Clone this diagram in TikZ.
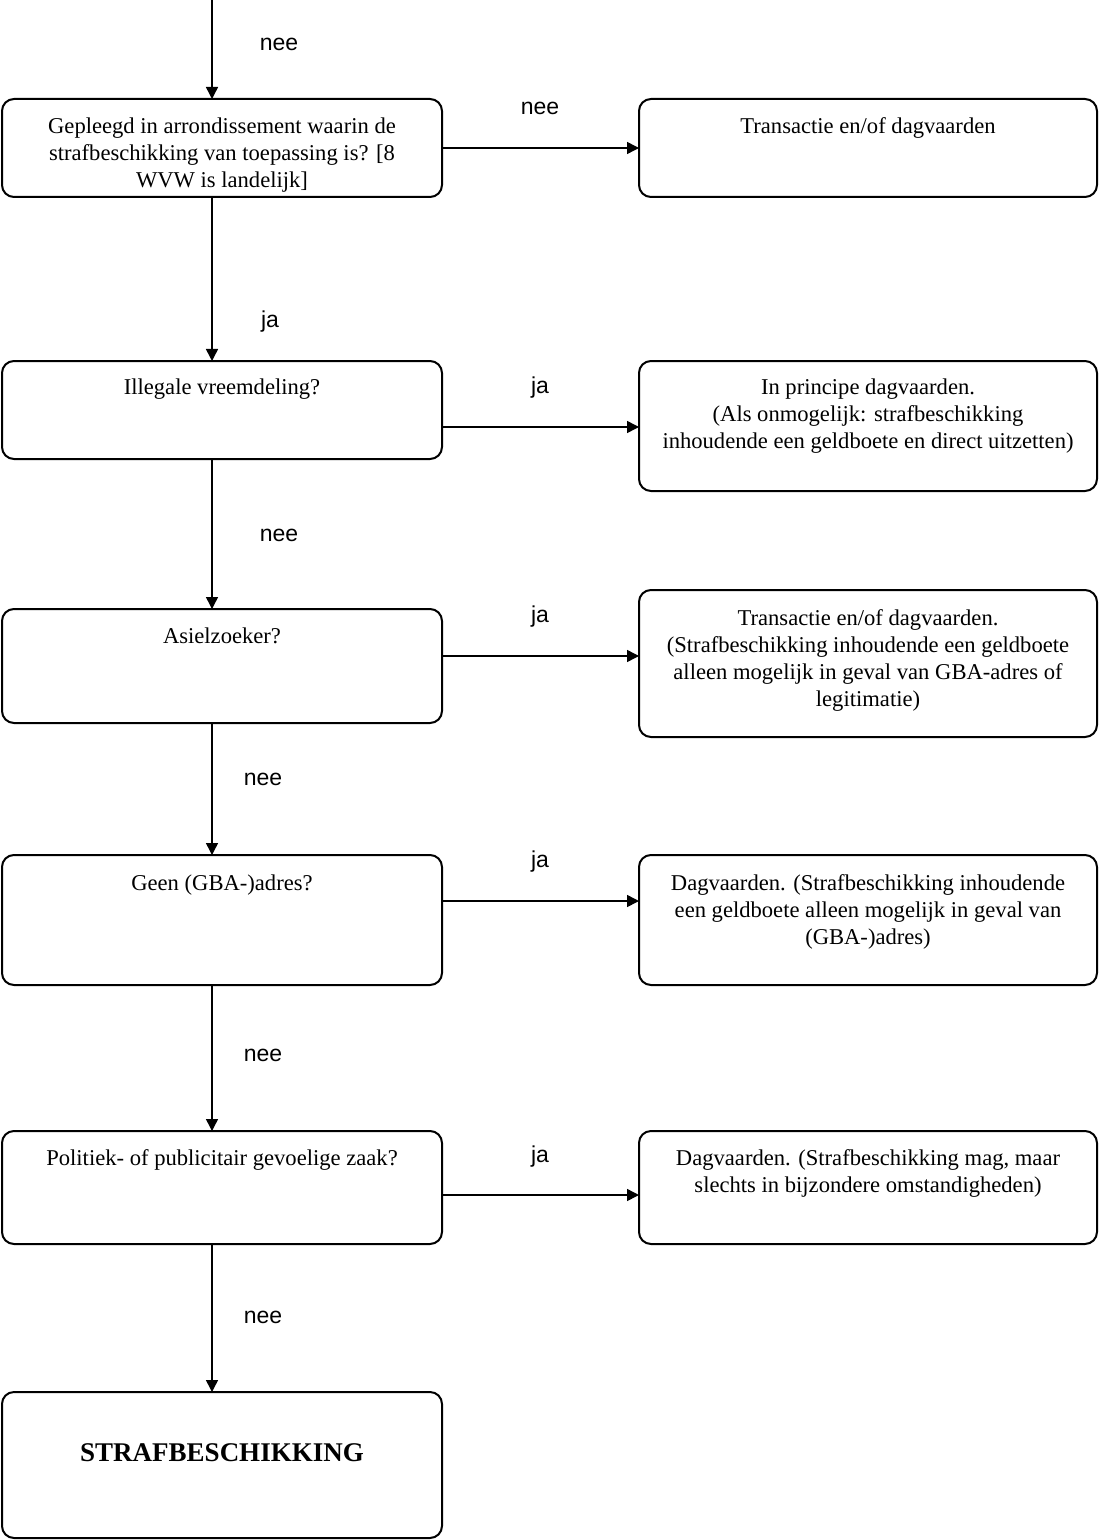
\documentclass[tikz,border=0pt]{standalone}
\usepackage{fontspec}
\setmainfont{Liberation Serif}
\newfontfamily\lblfont{Liberation Sans}
\usetikzlibrary{arrows.meta}

\begin{document}
\begin{tikzpicture}[x=0.5pt, y=-0.5pt, line width=1pt,
    box/.style={draw, rounded corners=6pt, inner sep=0pt, outer sep=0pt},
    txt/.style={anchor=north, align=center, inner sep=0pt, font=\fontsize{11.3}{13.5}\selectfont},
    lbl/.style={font=\lblfont\fontsize{11.5}{13}\selectfont},
    arr/.style={line width=0.75pt, -{Triangle[length=6pt, width=6pt]}}]
    \useasboundingbox (0,0) rectangle (1099,1540);

    % Vragen (links)
    \node[box, minimum width=220pt, minimum height=49pt] (q1) at (222,148) {};
    \node[box, minimum width=220pt, minimum height=49pt] (q2) at (222,410) {};
    \node[box, minimum width=220pt, minimum height=57pt] (q3) at (222,666) {};
    \node[box, minimum width=220pt, minimum height=65pt] (q4) at (222,920) {};
    \node[box, minimum width=220pt, minimum height=56.5pt] (q5) at (222,1187.5) {};
    \node[box, minimum width=220pt, minimum height=73pt] (q6) at (222,1465) {};

    % Uitkomsten (rechts)
    \node[box, minimum width=229pt, minimum height=49pt] (r1) at (868,148) {};
    \node[box, minimum width=229pt, minimum height=65pt] (r2) at (868,426) {};
    \node[box, minimum width=229pt, minimum height=73.5pt] (r3) at (868,663.5) {};
    \node[box, minimum width=229pt, minimum height=65pt] (r4) at (868,920) {};
    \node[box, minimum width=229pt, minimum height=56.5pt] (r5) at (868,1187.5) {};

    % Teksten
    \node[txt] (t1) at (222,117) {Gepleegd in arrondissement waarin de\\strafbeschikking van toepassing is? [8\\WVW is landelijk]};
    \node[txt] (t2) at (222,378) {Illegale vreemdeling?};
    \node[txt] (t3) at (222,627) {Asielzoeker?};
    \node[txt] (t4) at (222,874) {Geen (GBA-)adres?};
    \node[txt] (t5) at (222,1149) {Politiek- of publicitair gevoelige zaak?};
    \node[font=\bfseries\fontsize{13.5}{16}\selectfont] (t6) at (222,1453) {STRAFBESCHIKKING};

    \node[txt] (u1) at (868,117) {Transactie en/of dagvaarden};
    \node[txt] (u2) at (868,378) {In principe dagvaarden.\\(Als onmogelijk: strafbeschikking\\inhoudende een geldboete en direct uitzetten)};
    \node[txt] (u3) at (868,609) {Transactie en/of dagvaarden.\\(Strafbeschikking inhoudende een geldboete\\alleen mogelijk in geval van GBA-adres of\\legitimatie)};
    \node[txt] (u4) at (868,874) {Dagvaarden. (Strafbeschikking inhoudende\\een geldboete alleen mogelijk in geval van\\(GBA-)adres)};
    \node[txt] (u5) at (868,1149) {Dagvaarden. (Strafbeschikking mag, maar\\slechts in bijzondere omstandigheden)};

    % Verticale pijlen
    \coordinate (top) at (212,0);
    \draw[arr] (top) -- (top |- q1.north);
    \draw[arr] (q1.south -| top) -- (q2.north -| top);
    \draw[arr] (q2.south -| top) -- (q3.north -| top);
    \draw[arr] (q3.south -| top) -- (q4.north -| top);
    \draw[arr] (q4.south -| top) -- (q5.north -| top);
    \draw[arr] (q5.south -| top) -- (q6.north -| top);

    % Horizontale pijlen
    \draw[arr] (q1.east) -- (q1.east -| r1.west);
    \draw[arr] ([yshift=-8.5pt]q2.east) -- ([yshift=-8.5pt]q2.east -| r2.west);
    \draw[arr] ([yshift=5pt]q3.east) -- ([yshift=5pt]q3.east -| r3.west);
    \draw[arr] ([yshift=9.5pt]q4.east) -- ([yshift=9.5pt]q4.east -| r4.west);
    \draw[arr] ([yshift=-3.75pt]q5.east) -- ([yshift=-3.75pt]q5.east -| r5.west);

    % Labels
    \node[lbl] (l0) at (279,44) {nee};
    \node[lbl] (l1) at (540,108) {nee};
    \node[lbl] (l2) at (270,322) {ja};
    \node[lbl] (l3) at (540,388) {ja};
    \node[lbl] (l4) at (279,535) {nee};
    \node[lbl] (l5) at (540,617) {ja};
    \node[lbl] (l6) at (263,779) {nee};
    \node[lbl] (l7) at (540,862) {ja};
    \node[lbl] (l8) at (263,1055) {nee};
    \node[lbl] (l9) at (540,1157) {ja};
    \node[lbl] (l10) at (263,1317) {nee};
\end{tikzpicture}
\end{document}
